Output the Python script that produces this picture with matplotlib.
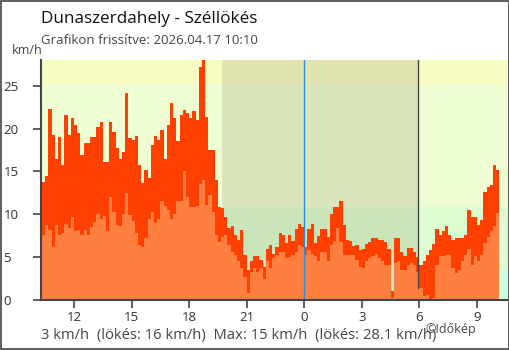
import numpy as np
import pandas as pd
import matplotlib
matplotlib.use("Agg")
import matplotlib.pyplot as plt
import matplotlib.dates as mdates
from matplotlib.patches import Rectangle

plt.rcParams['font.family'] = ['Open Sans', 'DejaVu Sans']

# 10-minute readings, 2026.04.16 10:20 -> 2026.04.17 10:10
times = pd.date_range('2026-04-16 10:20', periods=144, freq='10min')

gust = [13.8, 14.5, 22.3, 19.3, 16.5, 19.0, 15.8, 21.6, 19.3, 21.2, 20.4, 19.5, 16.9, 18.3, 18.3, 19.0, 19.0, 20.2, 20.8, 16.1, 16.1, 20.8, 19.6, 17.7, 16.5,
        17.3, 24.1, 18.9, 18.7, 19.1, 15.8, 13.6, 15.2, 14.2, 18.1, 19.1, 18.7, 19.8, 16.5, 20.4, 23.0, 21.2, 18.5, 21.6, 22.2, 21.8, 21.2, 22.0, 21.0, 27.2,
        28.1, 21.4, 17.5, 17.5, 14.0, 10.9, 10.7, 9.7, 8.4, 8.6, 7.6, 7.0, 8.2, 5.3, 3.5, 4.5, 5.1, 5.1, 4.7, 3.9, 6.0, 6.4, 5.4, 6.2, 7.8,
        7.6, 6.6, 7.6, 6.9, 8.3, 8.9, 8.5, 6.2, 8.3, 8.9, 6.7, 7.5, 8.3, 8.3, 7.4, 10.0, 10.8, 10.9, 11.5, 8.8, 7.0, 6.9, 6.3, 6.4, 5.8,
        5.9, 6.5, 6.8, 7.2, 7.2, 7.0, 7.0, 6.8, 6.0, 1.0, 7.2, 7.2, 5.6, 5.1, 6.1, 6.1, 5.6, 5.0, 4.1, 4.5, 5.3, 5.8, 6.5, 8.3, 7.6,
        8.0, 8.6, 7.6, 7.0, 7.2, 7.2, 7.2, 7.6, 10.5, 9.7, 9.7, 8.8, 9.3, 12.6, 13.2, 13.4, 15.8, 15.2, 15.8]

wind = [7.6, 8.8, 8.2, 6.2, 8.8, 7.6, 7.8, 8.9, 8.4, 9.7, 8.0, 8.2, 7.6, 8.2, 7.6, 8.5, 9.1, 10.0, 9.5, 9.8, 8.0, 12.0, 10.3, 8.8, 8.6,
        10.0, 12.5, 9.9, 9.2, 7.8, 6.4, 6.2, 7.2, 9.5, 10.3, 9.0, 9.5, 11.5, 11.0, 10.5, 9.4, 10.0, 11.5, 11.5, 15.0, 12.0, 10.8, 10.8, 11.0, 13.5,
        14.0, 11.1, 12.3, 10.3, 7.6, 6.8, 7.4, 7.6, 6.4, 5.6, 5.3, 4.5, 3.7, 2.7, 0.8, 3.3, 3.7, 3.3, 3.7, 2.5, 4.5, 3.7, 4.9, 5.3, 5.6,
        5.6, 4.9, 5.0, 5.3, 5.6, 6.4, 6.2, 5.3, 5.8, 5.4, 5.1, 4.5, 5.6, 5.6, 4.5, 6.4, 6.9, 8.4, 6.8, 5.3, 5.3, 5.3, 5.3, 4.7, 3.9,
        3.7, 4.5, 4.9, 5.1, 5.4, 4.9, 4.5, 4.1, 4.1, 0.2, 4.3, 4.5, 3.5, 3.5, 4.1, 4.3, 4.1, 3.3, 1.4, 0.5, 0.6, 0.1, 0.2, 4.1, 5.1,
        5.1, 5.3, 5.3, 3.7, 3.1, 3.5, 4.5, 5.3, 6.0, 4.1, 5.1, 4.5, 5.3, 6.6, 7.4, 8.0, 8.6, 10.1, 10.1]

# wind-force bands (km/h) and colours
band_edges = [0, 3.6, 10.8, 25.2, 28]
band_colors = ['#ccffdd', '#ddfdd0', '#eefdd2', '#f6fcc2']

tick_times = pd.to_datetime(['2026-04-16 12:00', '2026-04-16 15:00', '2026-04-16 18:00', '2026-04-16 21:00',
                             '2026-04-17 00:00', '2026-04-17 03:00', '2026-04-17 06:00', '2026-04-17 09:00'])
tick_labels = ['12', '15', '18', '21', '0', '3', '6', '9']

sunset = pd.Timestamp('2026-04-16 19:43')
sunrise = pd.Timestamp('2026-04-17 05:57')
midnight = pd.Timestamp('2026-04-17 00:00')

x_start = pd.Timestamp('2026-04-16 10:17')
x_end = pd.Timestamp('2026-04-17 10:40')

fig = plt.figure(figsize=(5.1, 3.5), dpi=100)
ax = fig.add_axes([41/510, 50/350, 468/510, 240/350])

for i in range(len(band_colors)):
    ax.axhspan(band_edges[i], band_edges[i+1], color=band_colors[i], lw=0, zorder=0)
ax.axvspan(sunset, sunrise, color='#4a3a20', alpha=0.12, lw=0, zorder=1)

ax.fill_between(times, gust, step='post', color='#ff4000', lw=0, zorder=2)
ax.fill_between(times, wind, step='post', color='#ff7f40', lw=0, zorder=3)

ax.axvline(midnight, color='#2a8fdc', lw=1, zorder=4)
ax.axvline(sunrise, ymin=0.05, color='#444444', lw=1, zorder=4)

ax.set_xlim(x_start, x_end)
ax.set_ylim(0, 28)
ax.set_yticks([0, 5, 10, 15, 20, 25])
ax.set_xticks(tick_times)
ax.set_xticklabels(tick_labels)
ax.tick_params(axis='both', colors='#444444', labelcolor='#333333', labelsize=9.5, length=6, width=1.2)
ax.tick_params(axis='x', pad=2)
ax.tick_params(axis='y', pad=21)
for lab in ax.get_yticklabels():
    lab.set_horizontalalignment('left')
ax.get_xticklines()[8].set_color('#2a8fdc')
for s in ['top', 'right']:
    ax.spines[s].set_visible(False)
for s in ['left', 'bottom']:
    ax.spines[s].set_color('#444444')
    ax.spines[s].set_linewidth(1.5)
    ax.spines[s].set_zorder(5)

fig.text(41/510, 1 - 19/350, 'Dunaszerdahely - Széllökés', fontsize=12.3, color='#111111', va='center')
fig.text(41/510, 1 - 41/350, 'Grafikon frissítve: 2026.04.17 10:10', fontsize=9.5, color='#444444', va='center')
fig.text(12/510, 1 - 51/350, 'km/h', fontsize=9, color='#444444', va='center')
fig.text(41/510, 1 - 335/350, '3 km/h  (lökés: 16 km/h)  Max: 15 km/h  (lökés: 28.1 km/h)',
         fontsize=10.6, color='#444444', va='center')
fig.text(425/510, 1 - 329/350, '©Időkép', fontsize=9, color='#444444', va='center')

fig.patches.append(Rectangle((0.001, 0.0015), 0.997, 0.996, transform=fig.transFigure,
                             fill=False, edgecolor='#444444', lw=1.2))

fig.savefig('out.png', dpi=100)
